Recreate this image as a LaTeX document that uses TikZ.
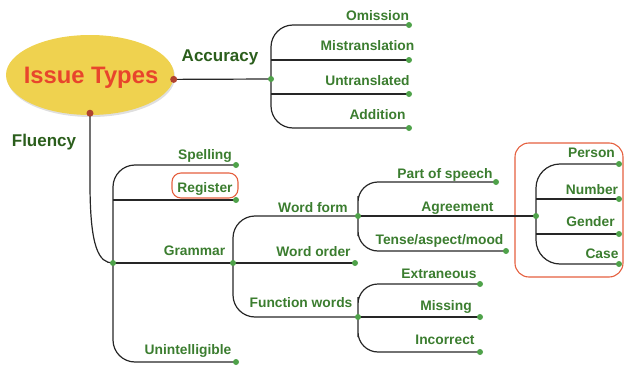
\documentclass[tikz,border=0pt]{standalone}
\usepackage{fontspec}
\setmainfont{Liberation Sans}
\usetikzlibrary{shapes.geometric,shadows}
\definecolor{leafgreen}{HTML}{3B7D2F}
\definecolor{branchgreen}{HTML}{2B5E1C}
\definecolor{dotgreen}{HTML}{4FA24A}
\definecolor{rootred}{HTML}{B0432F}
\definecolor{titlered}{HTML}{E8452C}
\definecolor{boxred}{HTML}{E5603F}
\definecolor{ellipsefill}{HTML}{EFD24F}
\tikzset{
  leaf/.style={anchor=base, inner sep=0pt, text=leafgreen, font=\fontsize{13.8}{16}\selectfont\bfseries},
  branch/.style={anchor=base, inner sep=0pt, text=branchgreen, font=\fontsize{17}{20}\selectfont\bfseries},
  link/.style={line width=1.2pt, draw=black!85},
  gdot/.style={circle, fill=dotgreen, inner sep=0pt, minimum size=6pt},
  rdot/.style={circle, fill=rootred, inner sep=0pt, minimum size=7pt},
  hilite/.style={draw=boxred, line width=1.1pt, rounded corners=9pt},
}

\begin{document}
\begin{tikzpicture}[x=1pt, y=-1pt]
      \useasboundingbox (0,0) rectangle (625,367);
      \node[ellipse, fill=ellipsefill, minimum width=168pt, minimum height=80pt, inner sep=0pt,
        drop shadow={opacity=0.25, shadow xshift=1pt, shadow yshift=-2pt}] (root) at (90,75) {};
      \node[anchor=base, inner sep=0pt, text=titlered, font=\fontsize{23.8}{26}\selectfont\bfseries]
        (title) at (91,83) {Issue Types};
      \coordinate (rootE) at (root.-3);
      \coordinate (rootS) at ([yshift=2pt]root.south);
      \coordinate (acc) at (271,79);
      \coordinate (omi) at (409,25);
      \coordinate (mis) at (409,60);
      \coordinate (unt) at (409,94);
      \coordinate (add) at (409,128);
      \coordinate (flu) at (113,263);
      \coordinate (spe) at (236,165);
      \coordinate (reg) at (236,200);
      \coordinate (gra) at (233,263);
      \coordinate (uni) at (236,362);
      \coordinate (wfo) at (358,216);
      \coordinate (wor) at (355,263);
      \coordinate (fwo) at (358,317);
      \coordinate (pos) at (496,182);
      \coordinate (agr) at (536,216);
      \coordinate (tam) at (506,251);
      \coordinate (ext) at (480,284);
      \coordinate (mss) at (480,317);
      \coordinate (inc) at (480,352);
      \coordinate (per) at (619,164);
      \coordinate (num) at (619,199);
      \coordinate (gen) at (619,234);
      \coordinate (cas) at (619,264);

      \draw[hilite] (172,173) rectangle (238,198);
      \draw[hilite, rounded corners=14pt] (515,143) rectangle (623,277);

      \draw[link] (rootE) -- (acc);
      \draw[link, rounded corners=22pt] (omi) -| (acc) |- (add);
      \draw[link] (acc |- mis) -- (mis);
      \draw[link] (acc |- unt) -- (unt);
      \draw[link] (rootS) -- ++(0,70) .. controls +(0,65) and +(-14,0) .. (flu);
      \draw[link, rounded corners=22pt] (spe) -| (flu) |- (uni);
      \draw[link] (flu |- reg) -- (reg);
      \draw[link] (flu) -- (gra);
      \draw[link, rounded corners=22pt] (wfo) -| (gra) |- (fwo);
      \draw[link] (gra) -- (wor);
      \draw[link, rounded corners=20pt] (pos) -| (wfo) |- (tam);
      \draw[link] (wfo) -- (agr);
      \draw[link, rounded corners=20pt] (ext) -| (fwo) |- (inc);
      \draw[link] (fwo) -- (mss);
      \draw[link, rounded corners=24pt] (per) -| (agr) |- (cas);
      \draw[link] (agr |- num) -- (num);
      \draw[link] (agr |- gen) -- (gen);

      \foreach \p in {rootE,rootS} \node[rdot] at (\p) {};
      \foreach \p in {acc,omi,mis,unt,add,flu,spe,reg,gra,uni,wfo,wor,fwo,pos,agr,tam,ext,mss,inc,per,num,gen,cas}
        \node[gdot] at (\p) {};

      \node[branch] (accuracy) at (220,61) {Accuracy};
      \node[branch] (fluency) at (44,146) {Fluency};
      \node[leaf] (omission) at (377.5,20.7) {Omission};
      \node[leaf] (mistranslation) at (367.5,50.7) {Mistranslation};
      \node[leaf] (untranslated) at (367.5,85) {Untranslated};
      \node[leaf] (addition) at (377.5,119) {Addition};
      \node[leaf] (spelling) at (205,159) {Spelling};
      \node[leaf] (register) at (205,192.7) {Register};
      \node[leaf] (grammar) at (194.5,255.7) {Grammar};
      \node[leaf] (unintelligible) at (188,354) {Unintelligible};
      \node[leaf] (wordform) at (313,212) {Word form};
      \node[leaf] (wordorder) at (313.5,256.7) {Word order};
      \node[leaf] (functionwords) at (301,307) {Function words};
      \node[leaf] (partofspeech) at (445,178) {Part of speech};
      \node[leaf] (agreement) at (457.5,211.7) {Agreement};
      \node[leaf] (tense) at (439.5,244.3) {Tense/aspect/mood};
      \node[leaf] (extraneous) at (439,278.3) {Extraneous};
      \node[leaf] (missing) at (446,310.7) {Missing};
      \node[leaf] (incorrect) at (445,344) {Incorrect};
      \node[leaf] (person) at (591.5,157.3) {Person};
      \node[leaf] (number) at (592,194.3) {Number};
      \node[leaf] (gender) at (590.5,226.7) {Gender};
      \node[leaf] (case) at (602,258.3) {Case};
    \end{tikzpicture}
\end{document}
